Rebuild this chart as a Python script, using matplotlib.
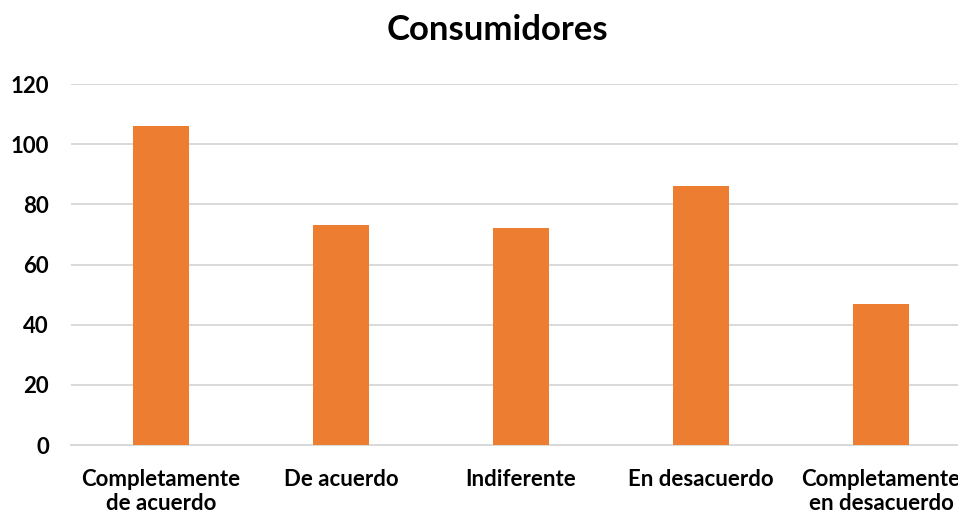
import matplotlib.pyplot as plt

# Consumer survey responses
categorias = ['Completamente\nde acuerdo', 'De acuerdo', 'Indiferente',
              'En desacuerdo', 'Completamente\nen desacuerdo']
valores = [106, 73, 72, 86, 47]
y_ticks = [0, 20, 40, 60, 80, 100, 120]

plt.rcParams['font.family'] = ['Lato', 'DejaVu Sans']
plt.rcParams['font.weight'] = 'bold'

fig = plt.figure(figsize=(9.58, 5.15), dpi=100)
# axes run past the right edge of the figure
ax = fig.add_axes([71 / 958, 70 / 515, 900 / 958, 361 / 515])

x = range(len(categorias))
ax.bar(x, valores, width=0.31, color='#ED7D31', zorder=3)

ax.set_xlim(-0.5, len(categorias) - 0.5)
ax.set_ylim(0, 120)
ax.set_yticks(y_ticks)
ax.set_xticks(list(x))
ax.set_xticklabels(categorias, fontsize=16, fontweight='bold', linespacing=1.2)
for lbl in ax.get_yticklabels():
    lbl.set_fontweight('bold')
ax.tick_params(axis='y', labelsize=16, length=0, pad=16)
ax.tick_params(axis='x', length=0, pad=17)

ax.grid(axis='y', color='#d9d9d9', linewidth=1.4, zorder=0)
for side in ['top', 'right', 'left']:
    ax.spines[side].set_visible(False)
ax.spines['bottom'].set_color('#d9d9d9')
ax.spines['bottom'].set_linewidth(1.4)

fig.text(497 / 958, 1 - 30 / 515, 'Consumidores', ha='center', va='center',
         fontsize=25, fontweight='bold')

fig.savefig('out.png', dpi=100)
